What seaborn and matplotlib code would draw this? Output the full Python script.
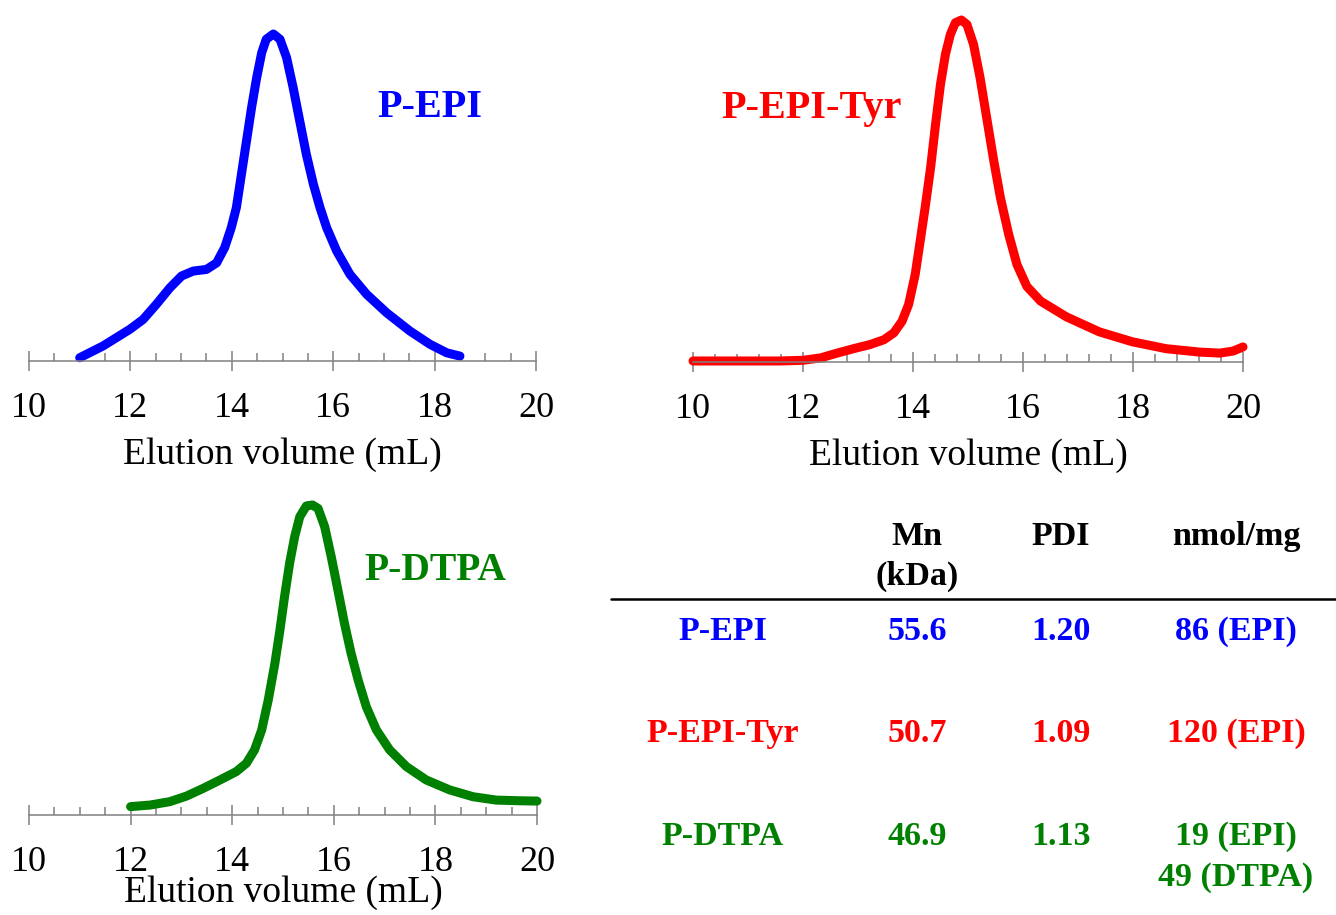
import numpy as np
import matplotlib
matplotlib.use("Agg")
import matplotlib.pyplot as plt
from matplotlib.ticker import MultipleLocator
from matplotlib.lines import Line2D
import seaborn as sns

# GPC traces (normalised detector signal vs elution volume)
epi_x = [11.0, 11.46, 11.99, 12.25, 12.51, 12.78, 13.01, 13.24, 13.5, 13.7, 13.86, 13.99,
         14.09, 14.19, 14.29, 14.39, 14.49, 14.59, 14.68, 14.82, 14.95, 15.08, 15.21, 15.34,
         15.47, 15.61, 15.74, 15.87, 16.07, 16.33, 16.66, 17.05, 17.51, 17.91, 18.24, 18.5]
epi_y = [0.01, 0.046, 0.097, 0.127, 0.173, 0.224, 0.26, 0.275, 0.28, 0.30, 0.347, 0.408,
         0.469, 0.571, 0.673, 0.775, 0.866, 0.943, 0.984, 1.0, 0.984, 0.928, 0.836, 0.734,
         0.632, 0.54, 0.469, 0.408, 0.336, 0.265, 0.204, 0.148, 0.092, 0.051, 0.025, 0.015]

tyr_x = [10.0, 10.8, 11.59, 12.0, 12.32, 12.62, 12.92, 13.22, 13.47, 13.65, 13.8, 13.92,
         14.04, 14.13, 14.22, 14.32, 14.41, 14.5, 14.59, 14.68, 14.77, 14.88, 14.98, 15.1,
         15.22, 15.35, 15.47, 15.59, 15.74, 15.89, 16.07, 16.32, 16.79, 17.39, 17.99, 18.6,
         19.21, 19.58, 19.82, 20.0]
tyr_y = [0.003, 0.003, 0.003, 0.005, 0.012, 0.026, 0.039, 0.051, 0.065, 0.085, 0.119, 0.168,
         0.256, 0.353, 0.451, 0.568, 0.695, 0.812, 0.90, 0.958, 0.992, 1.0, 0.987, 0.929,
         0.831, 0.704, 0.587, 0.48, 0.373, 0.285, 0.221, 0.178, 0.132, 0.088, 0.059, 0.039,
         0.029, 0.026, 0.032, 0.044]

dtpa_x = [12.0, 12.38, 12.77, 13.1, 13.43, 13.76, 14.08, 14.28, 14.44, 14.58, 14.71, 14.84,
          14.94, 15.03, 15.13, 15.23, 15.33, 15.46, 15.58, 15.69, 15.82, 15.95, 16.08, 16.21,
          16.34, 16.48, 16.64, 16.84, 17.1, 17.43, 17.82, 18.28, 18.74, 19.2, 19.65, 20.0]
dtpa_y = [0.027, 0.032, 0.043, 0.061, 0.086, 0.113, 0.14, 0.167, 0.21, 0.274, 0.371, 0.489,
          0.597, 0.704, 0.812, 0.898, 0.962, 0.997, 1.0, 0.989, 0.93, 0.833, 0.726, 0.618,
          0.522, 0.435, 0.349, 0.274, 0.21, 0.156, 0.113, 0.081, 0.059, 0.048, 0.046, 0.045]

# summary table
samples = ["P-EPI", "P-EPI-Tyr", "P-DTPA"]
mn_kda = ["55.6", "50.7", "46.9"]
pdi = ["1.20", "1.09", "1.13"]
loading = ["86 (EPI)", "120 (EPI)", "19 (EPI)\n49 (DTPA)"]
colors = ["#0000FF", "#FF0000", "#008000"]

sns.set_style("ticks")
plt.rcParams["font.family"] = ["Liberation Serif", "DejaVu Serif"]
plt.rcParams["text.color"] = "black"
plt.rcParams["axes.labelcolor"] = "black"

W, H = 1336, 915
fig = plt.figure(figsize=(W / 100, H / 100), dpi=100)


def px_axes(left, right, axis_y, top_y):
    return fig.add_axes([left / W, 1 - axis_y / H, (right - left) / W, (axis_y - top_y) / H])


def style_axis(ax, minor, labelpad):
    ax.set_xlim(10, 20)
    ax.set_ylim(0, 1)
    sns.despine(ax=ax, left=True)
    ax.spines["bottom"].set_color("#808080")
    ax.spines["bottom"].set_linewidth(1.1)
    ax.set_yticks([])
    ax.xaxis.set_major_locator(MultipleLocator(2))
    ax.xaxis.set_minor_locator(MultipleLocator(minor))
    ax.tick_params(axis="x", which="major", direction="inout", length=14, width=1.1,
                   color="#808080", labelcolor="black", labelsize=26, pad=15.5)
    ax.tick_params(axis="x", which="minor", direction="in", length=6, width=1.1,
                   color="#808080")
    ax.set_ylabel("")
    ax.set_xlabel("Elution volume (mL)", fontsize=27, labelpad=labelpad)


line_kw = dict(linewidth=6.5, sort=False, solid_capstyle="round",
               solid_joinstyle="round", clip_on=False)

ax1 = px_axes(29, 536, 361, 34)
sns.lineplot(x=epi_x, y=epi_y, ax=ax1, color=colors[0], **line_kw)
style_axis(ax1, 0.5, 8.5)

ax2 = px_axes(693, 1243, 362, 20)
sns.lineplot(x=tyr_x, y=tyr_y, ax=ax2, color=colors[1], **line_kw)
style_axis(ax2, 0.4, 9)

ax3 = px_axes(29, 537, 815, 505)
sns.lineplot(x=dtpa_x, y=dtpa_y, ax=ax3, color=colors[2], **line_kw)
style_axis(ax3, 0.5, -3)


def ftext(x, y, s, **kw):
    fig.text(x / W, 1 - y / H, s, **kw)


# panel labels
ftext(430, 117, "P-EPI", color=colors[0], fontsize=29, fontweight="bold", ha="center", va="baseline")
ftext(812, 118, "P-EPI-Tyr", color=colors[1], fontsize=29, fontweight="bold", ha="center", va="baseline")
ftext(435, 580, "P-DTPA", color=colors[2], fontsize=28.5, fontweight="bold", ha="center", va="baseline")

# table
col_x = [723, 917, 1061, 1236]
row_y = [640, 742, 845]
tkw = dict(fontsize=24.5, fontweight="bold", ha="center", va="baseline")
ftext(col_x[1], 545, "Mn", color="black", **tkw)
ftext(col_x[1], 585, "(kDa)", color="black", **tkw)
ftext(col_x[2], 545, "PDI", color="black", **tkw)
ftext(col_x[3], 545, "nmol/mg", color="black", **tkw)
fig.add_artist(Line2D([611 / W, 1.0], [1 - 599 / H, 1 - 599 / H], color="black",
                      linewidth=1.8, transform=fig.transFigure))

for i, name in enumerate(samples):
    c = colors[i]
    ftext(col_x[0], row_y[i], name, color=c, **tkw)
    ftext(col_x[1], row_y[i], mn_kda[i], color=c, **tkw)
    ftext(col_x[2], row_y[i], pdi[i], color=c, **tkw)
    lines = loading[i].split("\n")
    for j, line in enumerate(lines):
        ftext(col_x[3], row_y[i] + 41 * j, line, color=c, **tkw)

fig.savefig("out.png", dpi=100)
